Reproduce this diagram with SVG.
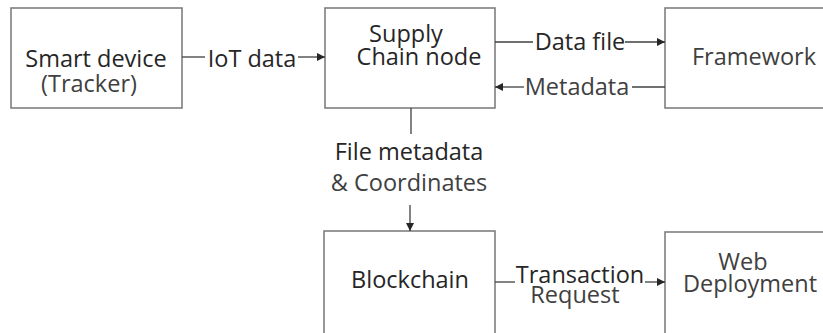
<svg xmlns="http://www.w3.org/2000/svg" width="823" height="333" viewBox="0 0 823 333">
<style>
.box{fill:#fff;stroke:#7f7f7f;stroke-width:1.6}
.t{font-family:"Open Sans","Noto Sans",sans-serif;font-size:23.5px;fill:#262626;text-anchor:middle}
.t2{fill:#404040}
.ln{stroke:#404040;stroke-width:1.3;fill:none}
</style>
<defs>
<marker id="ah" viewBox="0 0 10 10" refX="10" refY="5" markerWidth="9" markerHeight="8" markerUnits="userSpaceOnUse" orient="auto">
<path d="M0,0 L10,5 L0,10 z" fill="#262626"/>
</marker>
</defs>
<rect width="823" height="333" fill="#fff"/>
<g id="smart-device">
<rect class="box" x="11" y="8" width="171" height="100"/>
<text class="t" x="96" y="67">Smart device</text>
<text class="t t2" x="89" y="92">(Tracker)</text>
</g>
<g id="supply-chain-node">
<rect class="box" x="325" y="8" width="170" height="100"/>
<text class="t" x="406" y="42">Supply</text>
<text class="t" x="419" y="65">Chain node</text>
</g>
<g id="framework">
<rect class="box" x="665" y="8" width="170" height="100"/>
<text class="t t2" x="754" y="65">Framework</text>
</g>
<g id="blockchain">
<rect class="box" x="324" y="231" width="171" height="110"/>
<text class="t" x="410" y="288">Blockchain</text>
</g>
<g id="web-deployment">
<rect class="box" x="665" y="232" width="170" height="110"/>
<text class="t t2" x="743" y="270">Web</text>
<text class="t t2" x="750" y="292">Deployment</text>
</g>
<g id="connectors">
<line class="ln" x1="182" y1="57" x2="205" y2="57"/>
<text class="t" x="252" y="67">IoT data</text>
<line class="ln" x1="298" y1="57" x2="325" y2="57" marker-end="url(#ah)"/>
<line class="ln" x1="495" y1="42" x2="533" y2="42"/>
<text class="t" x="580" y="50">Data file</text>
<line class="ln" x1="625" y1="42" x2="665" y2="42" marker-end="url(#ah)"/>
<line class="ln" x1="665" y1="87" x2="632" y2="87"/>
<text class="t t2" x="577" y="95">Metadata</text>
<line class="ln" x1="524" y1="87" x2="495" y2="87" marker-end="url(#ah)"/>
<line class="ln" x1="411" y1="108" x2="411" y2="134"/>
<text class="t" x="409" y="160">File metadata</text>
<text class="t t2" x="409" y="191">&amp; Coordinates</text>
<line class="ln" x1="410" y1="205" x2="410" y2="231" marker-end="url(#ah)"/>
<line class="ln" x1="495" y1="282" x2="515" y2="282"/>
<text class="t" x="580" y="283">Transaction</text>
<text class="t t2" x="575" y="303">Request</text>
<line class="ln" x1="645" y1="282" x2="665" y2="282" marker-end="url(#ah)"/>
</g>
</svg>
